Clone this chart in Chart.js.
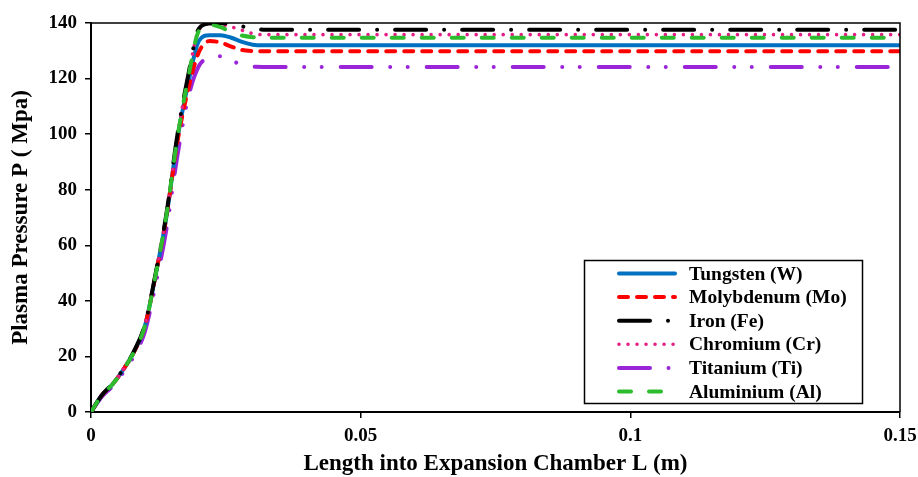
<!DOCTYPE html>
<html>
<head>
<meta charset="utf-8">
<script src="https://cdn.jsdelivr.net/npm/chart.js@4/dist/chart.umd.min.js"></script>
<style>
  html, body { margin: 0; padding: 0; background: #fff; }
  #wrap { width: 918px; height: 477px; position: relative; }
</style>
</head>
<body>
<div id="wrap"><canvas id="c" width="918" height="477"></canvas></div>
<script>
// Length into the expansion chamber (m)
const lengths = [0, 0.002, 0.004, 0.006, 0.008, 0.010, 0.012, 0.014, 0.016, 0.018, 0.020, 0.022, 0.024, 0.026, 0.028, 0.030, 0.032, 0.15];

// Plasma pressure (MPa) for each electrode material
const tungsten   = [0, 6, 10, 15.3, 21.7, 31, 49.5, 70.5, 98, 118, 133.5, 135.6, 135.6, 134.7, 133.2, 132.2, 132, 132];
const molybdenum = [0, 6, 10, 15.3, 21.7, 31, 49.5, 70.5, 97, 116, 129.5, 133.5, 133, 131.5, 130.3, 129.9, 129.8, 129.8];
const iron       = [0, 6, 10.2, 15.5, 22, 31.5, 50, 71.5, 99.5, 121, 138, 139.8, 139.9, 139.5, 138.8, 138, 137.6, 137.6];
const chromium   = [0, 6, 10, 15.3, 21.7, 31, 49.5, 71, 99, 120.5, 137.5, 139.8, 139.5, 138.6, 137.4, 136.2, 135.8, 135.8];
const titanium   = [0, 5.5, 9.3, 14.3, 20.3, 29, 46, 66, 92, 113, 124.5, 127.5, 128, 126.5, 125, 124.3, 124.2, 124.2];
const aluminium  = [0, 6, 10, 15.3, 21.7, 31, 49.5, 71, 98.5, 120, 137.2, 139.4, 138.5, 136.8, 135.5, 134.9, 134.7, 134.7];

const seriesNames = ['Tungsten (W)', 'Molybdenum (Mo)', 'Iron (Fe)', 'Chromium (Cr)', 'Titanium (Ti)', 'Aluminium (Al)'];

const xTickValues = [0, 0.05, 0.1, 0.15];
const xTickLabels = ['0', '0.05', '0.1', '0.15'];
const yTickValues = [0, 20, 40, 60, 80, 100, 120, 140];

const xTitle = 'Length into Expansion Chamber L (m)';
const yTitle = 'Plasma Pressure P ( Mpa)';

const SERIF = '"Liberation Serif", "Times New Roman", serif';

function pts(ys) { return lengths.map((x, i) => ({ x: x, y: ys[i] })); }

const styles = [
  { color: '#0070C0', dash: [], width: 4, order: 4 },
  { color: '#FF0000', dash: [9, 9], width: 4, order: 3 },
  { color: '#000000', dash: [31, 18, 0.01, 18], width: 4, order: 1 },
  { color: '#E41E84', dash: [0.01, 9], width: 3.6, order: 2 },
  { color: '#9A24D8', dash: [31, 18.5, 0.01, 17.5, 0.01, 19], width: 4, order: 5 },
  { color: '#2EBD2E', dash: [12, 18], width: 4, order: 0 }
];
const values = [tungsten, molybdenum, iron, chromium, titanium, aluminium];

const datasets = values.map((v, i) => ({
  label: seriesNames[i],
  data: pts(v),
  borderColor: styles[i].color,
  backgroundColor: styles[i].color,
  borderWidth: styles[i].width,
  borderDash: styles[i].dash,
  borderCapStyle: 'round',
  borderJoinStyle: 'round',
  pointRadius: 0,
  cubicInterpolationMode: 'monotone',
  fill: false,
  order: styles[i].order
}));

// Frame on the top and right of the plot area
const framePlugin = {
  id: 'frame',
  afterDatasetsDraw(chart) {
    const { ctx, chartArea: a } = chart;
    ctx.save();
    ctx.strokeStyle = '#000';
    ctx.lineWidth = 1.5;
    ctx.beginPath();
    ctx.moveTo(a.left, a.top);
    ctx.lineTo(a.right, a.top);
    ctx.lineTo(a.right, a.bottom);
    ctx.stroke();
    ctx.restore();
  }
};

// Boxed legend drawn inside the plot, lower right
const boxLegendPlugin = {
  id: 'boxLegend',
  afterDraw(chart) {
    const { ctx } = chart;
    const bx = 584.5, by = 260.5, bw = 278, bh = 143;
    ctx.save();
    ctx.fillStyle = '#fff';
    ctx.fillRect(bx, by, bw, bh);
    ctx.strokeStyle = '#000';
    ctx.lineWidth = 1.5;
    ctx.strokeRect(bx, by, bw, bh);
    chart.data.datasets.forEach((ds, i) => {
      const yc = 273.5 + i * 23.6;
      ctx.beginPath();
      ctx.setLineDash(ds.borderDash || []);
      ctx.lineDashOffset = 0;
      ctx.lineCap = 'round';
      ctx.strokeStyle = ds.borderColor;
      ctx.lineWidth = ds.borderWidth;
      ctx.moveTo(619, yc);
      ctx.lineTo(675, yc);
      ctx.stroke();
      ctx.setLineDash([]);
      ctx.fillStyle = '#000';
      ctx.font = 'bold 19.5px ' + SERIF;
      ctx.textAlign = 'left';
      ctx.textBaseline = 'middle';
      ctx.fillText(ds.label, 689, yc + 1);
    });
    ctx.restore();
  }
};

new Chart(document.getElementById('c'), {
  type: 'line',
  data: { datasets: datasets },
  plugins: [framePlugin, boxLegendPlugin],
  options: {
    responsive: false,
    animation: false,
    events: [],
    layout: { padding: { top: 23, right: 18, left: 0, bottom: 0 } },
    plugins: {
      legend: { display: false },
      tooltip: { enabled: false }
    },
    scales: {
      x: {
        type: 'linear',
        min: 0,
        max: 0.15,
        afterBuildTicks(scale) { scale.ticks = xTickValues.map(v => ({ value: v })); },
        afterFit(scale) {
          scale.height = 65;
          scale.paddingLeft = 0;
          scale.paddingRight = 0;
        },
        ticks: {
          color: '#000',
          font: { family: SERIF, size: 19, weight: 'bold' },
          padding: 7,
          maxRotation: 0,
          autoSkip: false,
          callback(value, index) { return xTickLabels[index]; }
        },
        grid: { display: true, drawOnChartArea: false, drawTicks: true, tickLength: 6, color: '#000', lineWidth: 1.5 },
        border: { display: true, color: '#000', width: 2 },
        title: {
          display: true,
          text: xTitle,
          color: '#000',
          font: { family: SERIF, size: 23, weight: 'bold' },
          padding: { top: 0, bottom: -1 }
        }
      },
      y: {
        min: 0,
        max: 140,
        afterBuildTicks(scale) { scale.ticks = yTickValues.map(v => ({ value: v })); },
        afterFit(scale) {
          scale.width = 91;
          scale.paddingTop = 0;
          scale.paddingBottom = 0;
        },
        ticks: {
          color: '#000',
          font: { family: SERIF, size: 19, weight: 'bold' },
          padding: 8,
          autoSkip: false
        },
        grid: { display: true, drawOnChartArea: false, drawTicks: true, tickLength: 6, color: '#000', lineWidth: 1.5 },
        border: { display: true, color: '#000', width: 2 },
        title: {
          display: true,
          text: yTitle,
          color: '#000',
          font: { family: SERIF, size: 23, weight: 'bold' },
          padding: { top: 7, bottom: 0 }
        }
      }
    }
  }
});
</script>
</body>
</html>
